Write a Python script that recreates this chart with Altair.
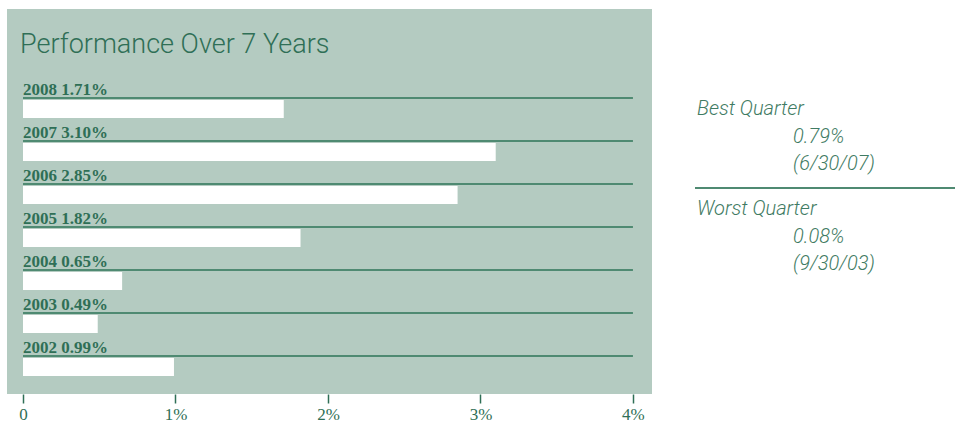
import altair as alt
import pandas as pd

# ---- data ----
years = ["2008", "2007", "2006", "2005", "2004", "2003", "2002"]
returns = [1.71, 3.10, 2.85, 1.82, 0.65, 0.49, 0.99]
x_ticks = [0, 1, 2, 3, 4]
chart_title = "Performance Over 7 Years"
best_lines = ["Best Quarter", "0.79%", "(6/30/07)"]
worst_lines = ["Worst Quarter", "0.08%", "(9/30/03)"]

df = pd.DataFrame({"year": years, "ret": returns})
df["label"] = [f"{y} {v:.2f}%" for y, v in zip(years, returns)]
df["zero"] = 0
df["end"] = x_ticks[-1]

GREEN = "#2f6f56"
SIDE = "#3f7b63"
LINE = "#4f8a72"
PANEL = "#b4cbc1"
SANS = "Liberation Sans Narrow, Roboto, sans-serif"

xscale = alt.Scale(domain=[-0.105, 4.125], nice=False, zero=False)
yscale = alt.Scale(domain=years, range=[89, 390], paddingInner=0, paddingOuter=0)

xaxis = alt.Axis(
    values=x_ticks,
    labelExpr="datum.value == 0 ? '0' : datum.value + '%'",
    domain=False, grid=False, ticks=True, tickSize=9, tickColor=GREEN, tickWidth=1.5,
    labelFont="Liberation Serif", labelFontSize=17, labelColor=GREEN,
    labelPadding=3, title=None,
)


def X(field):
    return alt.X(f"{field}:Q", scale=xscale, axis=xaxis)


base = alt.Chart(df)

bars = base.mark_bar(color="white", height=18, yOffset=-10.5).encode(
    x=X("zero"), x2="ret:Q",
    y=alt.Y("year:N", scale=yscale, axis=None, sort=None),
)

rules = base.mark_rule(color=LINE, strokeWidth=2).encode(
    x=X("zero"), x2="end:Q",
    y=alt.Y("year:N", scale=yscale, axis=None, sort=None, bandPosition=0),
)

labels = base.mark_text(
    align="left", baseline="alphabetic", dy=-3,
    font="Liberation Serif", fontWeight="bold", fontSize=17, color=GREEN,
).encode(
    x=X("zero"),
    y=alt.Y("year:N", scale=yscale, axis=None, sort=None, bandPosition=0),
    text="label:N",
)

title = alt.Chart(pd.DataFrame({"t": [chart_title]})).mark_text(
    align="left", baseline="alphabetic", font=SANS, fontWeight=300,
    fontSize=27, color=GREEN,
).encode(x=alt.value(13), y=alt.value(44), text="t:N")

side_layers = []
side_x = [690, 786, 786]
side_y_best = [106, 134, 161]
side_y_worst = [206, 234, 261]
for lines, ys in ((best_lines, side_y_best), (worst_lines, side_y_worst)):
    for txt, sx, sy in zip(lines, side_x, ys):
        side_layers.append(
            alt.Chart(pd.DataFrame({"t": [txt]})).mark_text(
                align="left", baseline="alphabetic", font=SANS, fontWeight=300,
                fontStyle="italic", fontSize=20, color=SIDE,
            ).encode(x=alt.value(sx), y=alt.value(sy), text="t:N")
        )

sep = alt.Chart(pd.DataFrame({"a": [0]})).mark_rule(color=LINE, strokeWidth=2).encode(
    x=alt.value(688), x2=alt.value(948), y=alt.value(179)
)

chart = alt.layer(bars, rules, labels, title, sep, *side_layers).properties(
    width=645, height=385,
    padding={"left": 7, "top": 9, "right": 303, "bottom": 31},
    autosize="none",
).configure_view(fill=PANEL, strokeWidth=0)

chart.save("out.html", embed_options={"renderer": "svg", "actions": False})
